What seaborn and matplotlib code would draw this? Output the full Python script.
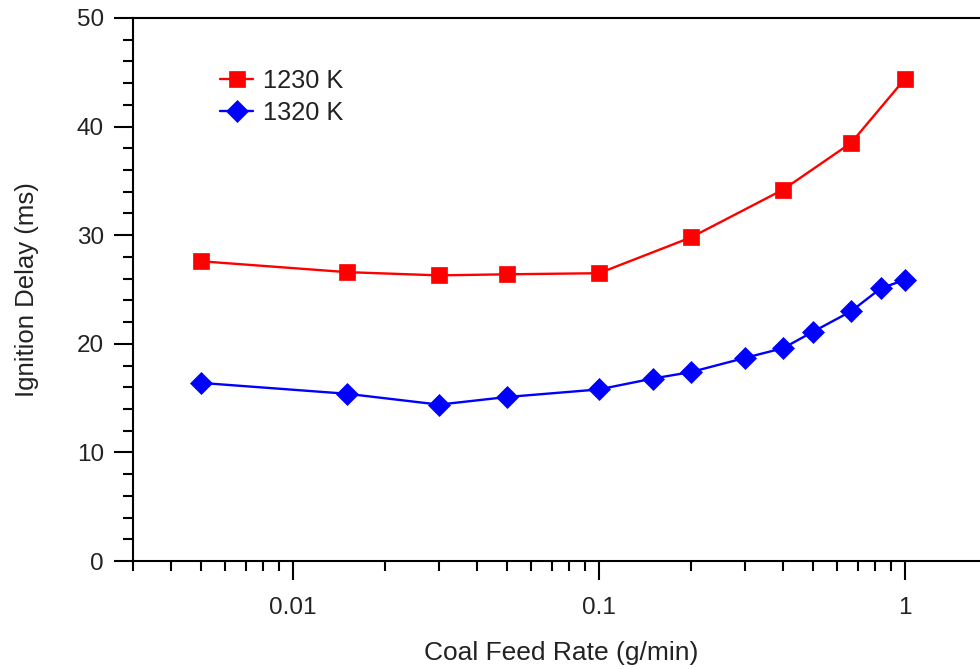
import matplotlib
matplotlib.use("Agg")
import matplotlib.pyplot as plt
import matplotlib.ticker as mticker
import seaborn as sns
import pandas as pd
import numpy as np

# data
feed_1230 = [0.005, 0.015, 0.03, 0.05, 0.1, 0.2, 0.4, 0.667, 1.0]
delay_1230 = [27.6, 26.6, 26.3, 26.4, 26.5, 29.8, 34.2, 38.5, 44.4]
feed_1320 = [0.005, 0.015, 0.03, 0.05, 0.1, 0.15, 0.2, 0.3, 0.4, 0.5, 0.667, 0.833, 1.0]
delay_1320 = [16.4, 15.4, 14.4, 15.1, 15.8, 16.8, 17.4, 18.7, 19.6, 21.1, 23.0, 25.1, 25.9]
series_labels = ["1230 K", "1320 K"]
x_ticks = [0.01, 0.1, 1]
x_tick_labels = ["0.01", "0.1", "1"]
y_ticks = [0, 10, 20, 30, 40, 50]

sns.set_theme(style="white")
plt.rcParams['font.family'] = ['Liberation Sans', 'DejaVu Sans']

df = pd.concat([
    pd.DataFrame({"feed": feed_1230, "delay": delay_1230, "T": series_labels[0]}),
    pd.DataFrame({"feed": feed_1320, "delay": delay_1320, "T": series_labels[1]}),
])

fig = plt.figure(figsize=(9.8, 6.69), dpi=100)
ax = fig.add_axes([133/980, 108/669, 1 - 133/980 + 0.01, (561-18)/669])

styles = {series_labels[0]: dict(color="#FF0000", marker="s", ms=12),
          series_labels[1]: dict(color="#0000FF", marker="D", ms=11.5)}
for lab in series_labels:
    sub = df[df["T"] == lab]
    st = styles[lab]
    sns.lineplot(data=sub, x="feed", y="delay", ax=ax, color=st["color"],
                 marker=st["marker"], markersize=st["ms"], markeredgewidth=0.5,
                 markeredgecolor=st["color"], linewidth=1.7, label=lab,
                 estimator=None, sort=False)

ax.set_xscale("log")
ax.set_xlim(0.003, 10 ** ((990 - 905) / 306.5))
ax.set_ylim(0, 50)
ax.set_xticks(x_ticks)
ax.set_xticklabels(x_tick_labels)
ax.xaxis.set_minor_locator(mticker.LogLocator(base=10, subs=np.arange(2, 10)))
ax.xaxis.set_minor_formatter(mticker.NullFormatter())
ax.set_yticks(y_ticks)
ax.yaxis.set_minor_locator(mticker.MultipleLocator(2))

for s in ["left", "top", "bottom"]:
    ax.spines[s].set_visible(True)
    ax.spines[s].set_color("black")
    ax.spines[s].set_linewidth(1.5)
ax.spines["right"].set_visible(False)

ax.tick_params(axis="both", which="major", direction="out", length=14, width=1.5,
               colors="black", labelcolor="#222222", labelsize=17.5,
               bottom=True, left=True, top=False, right=False)
ax.tick_params(axis="both", which="minor", direction="out", length=7, width=1.5,
               colors="black", bottom=True, left=True, top=False, right=False)
ax.tick_params(axis="y", which="major", pad=7)
ax.tick_params(axis="x", which="major", pad=12)

ax.set_xlabel("Coal Feed Rate (g/min)", fontsize=19, labelpad=16, color="#222222")
ax.set_ylabel("Ignition Delay (ms)", fontsize=18.5, labelpad=27, color="#222222")

leg = ax.legend(loc="upper left", bbox_to_anchor=(0.09, 0.925), frameon=False,
                fontsize=18.3, handlelength=1.3, handletextpad=0.4, labelspacing=0.3,
                borderaxespad=0)
for t in leg.get_texts():
    t.set_color("#222222")

fig.savefig("out.png", dpi=100)
